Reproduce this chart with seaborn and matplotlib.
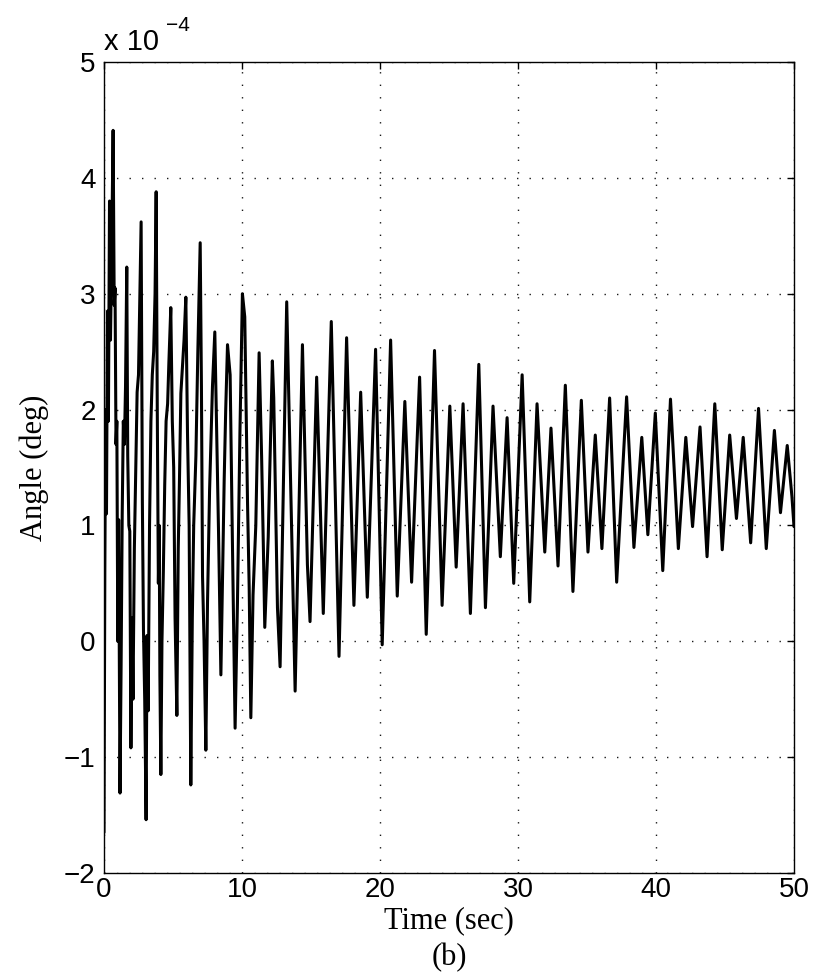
import matplotlib
matplotlib.use("Agg")
import matplotlib.pyplot as plt
import seaborn as sns
import pandas as pd

# ---- data (values in units of 1e-4 deg) ----
time_sec = [
    0.00, 0.06, 0.12, 0.18, 0.25, 0.32, 0.40, 0.47, 0.55, 0.66, 0.74, 0.80, 0.87, 0.93,
    1.00, 1.06, 1.16, 1.24, 1.32, 1.40, 1.48, 1.56, 1.65, 1.72, 1.80, 1.87, 1.95,
    2.03, 2.10, 2.20, 2.30, 2.40, 2.50, 2.60, 2.69, 2.78, 2.86, 2.95,
    3.05, 3.12, 3.20, 3.30, 3.40, 3.50, 3.60, 3.70, 3.78, 3.86, 3.94,
    4.00, 4.05, 4.12, 4.20, 4.30, 4.40, 4.50, 4.61, 4.70, 4.84, 4.95,
    5.05, 5.15, 5.28, 5.38, 5.47, 5.57, 5.70, 5.80, 5.93,
    6.05, 6.17, 6.29, 6.40, 6.50, 6.66, 6.80, 6.97,
    7.06, 7.14, 7.25, 7.38, 7.50, 7.65, 7.86,
    8.03, 8.15, 8.30, 8.47, 8.60, 8.71, 8.82, 8.95,
    9.14, 9.30, 9.50, 9.67, 9.85,
    10.03, 10.20, 10.40, 10.52, 10.64, 10.80,
    11.00, 11.24, 11.42, 11.55, 11.65, 11.90,
    12.20, 12.30, 12.57, 12.76, 13.24, 13.85, 14.38, 14.74, 14.93,
    15.41, 15.89, 16.47, 17.03, 17.58, 18.11, 18.60, 19.08, 19.68,
    20.16, 20.77, 21.25, 21.80, 22.29, 22.87, 23.35, 23.95, 24.50,
    25.06, 25.52, 26.02, 26.55, 27.16, 27.64, 28.19, 28.72, 29.21, 29.69,
    30.30, 30.85, 31.38, 31.94, 32.39, 32.90, 33.43, 33.98, 34.59,
    35.07, 35.60, 36.08, 36.64, 37.15, 37.87, 38.40, 38.97, 39.41, 39.95,
    40.49, 41.05, 41.62, 42.16, 42.65, 43.19, 43.70, 44.26, 44.80,
    45.34, 45.83, 46.32, 46.86, 47.43, 47.99, 48.58, 49.02, 49.51, 49.85, 50.00,
]
angle_e4 = [
    -1.65, 0.60, 2.00, 1.10, 2.85, 1.90, 3.80, 2.60, 3.30, 4.41, 2.90, 3.05, 1.70, 1.90,
    0.00, 1.05, -1.31, -0.20, 1.10, 1.90, 1.70, 2.20, 3.23, 1.60, 1.00, 0.95, -0.92,
    0.20, -0.50, 0.80, 1.50, 2.15, 2.30, 3.00, 3.62, 1.20, 0.10, -0.50,
    -1.54, 0.05, -0.60, 1.00, 1.90, 2.30, 2.50, 3.00, 3.88, 2.00, 0.50,
    1.00, -0.30, -1.15, 0.00, 0.60, 1.35, 1.90, 2.05, 2.40, 2.88, 1.90,
    1.50, 0.20, -0.64, 0.80, 1.40, 2.14, 2.40, 2.60, 2.97,
    1.80, 1.00, -1.24, 0.20, 1.00, 1.60, 2.50, 3.44,
    2.20, 0.56, 0.00, -0.94, 0.33, 1.30, 2.20,
    2.67, 1.90, 0.94, -0.29, 0.60, 1.40, 2.00, 2.56,
    2.30, 0.90, -0.75, 0.33, 1.80,
    3.00, 2.80, 1.20, 0.47, -0.66, 0.40,
    1.00, 2.49, 1.60, 0.80, 0.12, 0.90,
    2.42, 2.10, 0.29, -0.22, 2.93, -0.43, 2.56, 0.66, 0.17,
    2.28, 0.24, 2.76, -0.13, 2.62, 0.31, 2.15, 0.38, 2.52,
    -0.03, 2.60, 0.39, 2.07, 0.51, 2.28, 0.06, 2.51, 0.31,
    2.03, 0.64, 2.05, 0.24, 2.39, 0.29, 2.03, 0.73, 1.93, 0.50,
    2.30, 0.34, 2.05, 0.77, 1.84, 0.65, 2.21, 0.43, 2.08,
    0.77, 1.78, 0.80, 2.10, 0.51, 2.11, 0.81, 1.76, 0.92, 1.97,
    0.61, 2.09, 0.80, 1.76, 0.99, 1.85, 0.73, 2.05, 0.79,
    1.78, 1.06, 1.76, 0.85, 2.01, 0.80, 1.82, 1.11, 1.69, 1.25, 0.99,
]
x_ticks = [0, 10, 20, 30, 40, 50]
y_ticks = [-2, -1, 0, 1, 2, 3, 4, 5]

df = pd.DataFrame({"Time (sec)": time_sec, "Angle (deg)": angle_e4})

sns.set_theme(style="white")
plt.rcParams["font.family"] = ["Liberation Sans", "DejaVu Sans"]

W, H = 821, 980
fig = plt.figure(figsize=(W / 100, H / 100), dpi=100)
fig.patch.set_facecolor("white")
left, right, top, bottom = 104, 794, 62, 873
ax = fig.add_axes([left / W, 1 - bottom / H, (right - left) / W, (bottom - top) / H])
ax.set_facecolor("white")

sns.lineplot(data=df, x="Time (sec)", y="Angle (deg)", ax=ax, color="black",
             linewidth=2.2, estimator=None, sort=False)
for ln in ax.get_lines():
    ln.set_solid_joinstyle("round")

ax.set_xlim(0, 50)
ax.set_ylim(-2, 5)
ax.set_xticks(x_ticks)
ax.set_yticks(y_ticks)
ax.set_xticklabels([str(v) for v in x_ticks])
ax.set_yticklabels([str(v).replace("-", "\u2212") for v in y_ticks])
ax.tick_params(axis="both", direction="in", length=5, width=1.0, color="black",
               labelsize=20, labelcolor="black", top=True, right=True)
ax.tick_params(axis="x", pad=3)
ax.tick_params(axis="y", pad=6)
for s in ax.spines.values():
    s.set_visible(True)
    s.set_color("black")
    s.set_linewidth(1.0)

ax.grid(True, color="black", linestyle=(0, (1, 8)), linewidth=1.0, alpha=0.9)
ax.set_axisbelow(True)
ax.set_xlabel("")
ax.set_ylabel("")

serif = ["Liberation Serif", "DejaVu Serif"]
fig.text(449 / W, 1 - 921 / H, "Time (sec)", ha="center", va="center",
         fontsize=22, family=serif, color="black")
fig.text(449 / W, 1 - 958 / H, "(b)", ha="center", va="center",
         fontsize=22, family=serif, color="black")
fig.text(34 / W, 1 - 468 / H, "Angle (deg)", ha="center", va="center",
         rotation=90, fontsize=22, family=serif, color="black")

fig.text(104 / W, 1 - 50 / H, "x 10", ha="left", va="baseline", fontsize=21, color="black")
fig.text(166 / W, 1 - 31 / H, "\u22124", ha="left", va="baseline", fontsize=15, color="black")

fig.savefig("out.png", dpi=100, facecolor="white")
